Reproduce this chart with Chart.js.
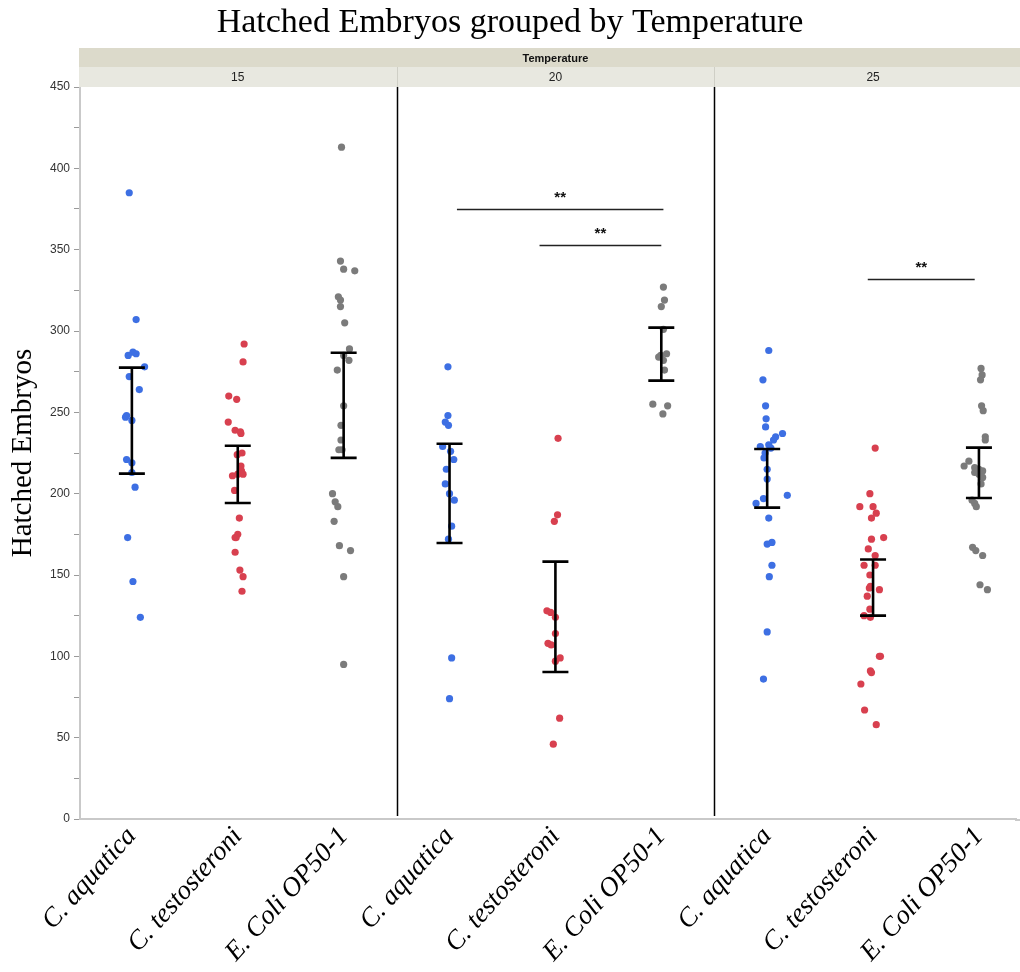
<!DOCTYPE html>
<html>
<head>
<meta charset="utf-8">
<title>Hatched Embryos grouped by Temperature</title>
<script src="https://cdn.jsdelivr.net/npm/chart.js@4.4.1/dist/chart.umd.min.js"></script>
<style>
    html, body { margin: 0; padding: 0; background: #fff; }
    #wrap { width: 1020px; height: 972px; }
</style>
</head>
<body>
<div id="wrap"><canvas id="embryoChart"></canvas></div>
<script>
// categories
const temps = ['15', '20', '25'];
const strains = ['C. aquatica', 'C. testosteroni', 'E. Coli OP50-1'];

// hatched embryos per plate (15 / 20 / 25 degrees)
const aq15 = [385, 307, 287, 286, 285, 278, 272, 264, 248, 247, 245, 221, 219, 213, 204, 173, 146, 124];
const te15 = [292, 281, 260, 258, 244, 239, 238, 237, 225, 224, 217, 214, 212, 212, 211, 202, 185, 175, 173, 173, 164, 153, 149, 140];
const ec15 = [413, 343, 338, 337, 321, 319, 315, 305, 289, 285, 282, 276, 254, 242, 233, 227, 227, 200, 195, 192, 183, 168, 165, 149, 95];
const aq20 = [278, 248, 244, 242, 229, 226, 221, 215, 206, 200, 196, 180, 172, 99, 74];
const te20 = [234, 187, 183, 128, 127, 124, 114, 108, 107, 99, 97, 62, 46];
const ec20 = [327, 319, 315, 301, 286, 285, 284, 282, 276, 255, 254, 249];
const aq25 = [288, 270, 254, 246, 241, 237, 235, 233, 230, 229, 228, 225, 222, 215, 209, 199, 197, 194, 185, 170, 169, 156, 149, 115, 86];
const te25 = [228, 200, 192, 192, 188, 185, 173, 172, 166, 162, 156, 156, 150, 143, 142, 141, 137, 129, 125, 124, 100, 100, 91, 90, 83, 67, 58];
const ec25 = [277, 273, 270, 254, 251, 235, 233, 220, 217, 216, 215, 214, 213, 212, 210, 206, 196, 194, 192, 167, 165, 162, 144, 141];

// horizontal jitter of each point (in category widths)
const aq15Jit = [-0.025, 0.04, 0.01, 0.04, -0.035, 0.12, -0.025, 0.07, -0.05, -0.06, 0, -0.05, 0, 0, 0.03, -0.04, 0.01, 0.08];
const te15Jit = [0.06, 0.05, -0.085, -0.01, -0.09, -0.025, 0.025, 0.03, 0.04, -0.005, 0.03, 0.035, 0.05, 0, -0.05, -0.03, 0.015, 0, -0.015, -0.025, -0.025, 0.02, 0.05, 0.04];
const ec15Jit = [-0.02, -0.03, 0, 0.105, -0.05, -0.03, -0.03, 0.01, 0.055, 0, 0.05, -0.06, 0, -0.025, -0.025, -0.045, -0.015, -0.105, -0.08, -0.055, -0.09, -0.04, 0.065, 0, 0];
const aq20Jit = [-0.015, -0.015, -0.04, -0.01, -0.065, 0.01, 0.04, -0.03, -0.04, 0, 0.045, 0.02, -0.01, 0.02, 0];
const te20Jit = [0.025, 0.02, -0.01, -0.08, -0.045, 0, 0, -0.07, -0.04, 0.045, 0, 0.04, -0.02];
const ec20Jit = [0.02, 0.03, 0, 0.02, 0.05, -0.005, -0.025, 0.02, 0.03, -0.08, 0.06, 0.015];
const aq25Jit = [0.015, -0.04, -0.015, -0.01, -0.015, 0.145, 0.08, 0.06, 0.015, -0.065, 0.035, -0.02, -0.03, 0, 0, 0.19, -0.035, -0.105, 0.015, 0.045, 0, 0.045, 0.02, 0, -0.035];
const te25Jit = [0.02, -0.03, -0.125, 0, 0.03, -0.015, 0.1, -0.015, -0.045, 0.02, -0.085, 0.02, -0.03, -0.025, -0.035, 0.06, -0.055, -0.03, -0.085, -0.025, 0.06, 0.07, -0.025, -0.015, -0.115, -0.08, 0.03];
const ec25Jit = [0.02, 0.03, 0.015, 0.025, 0.04, 0.06, 0.06, -0.095, -0.14, -0.04, 0, 0.035, -0.04, 0, 0.035, 0.02, -0.065, -0.04, -0.025, -0.06, -0.03, 0.035, 0.01, 0.08];

// error bar ends, one per column (left to right)
const errLow = [212.3, 194.3, 222, 169.7, 90.4, 269.5, 191.4, 125, 197.3];
const errHigh = [277.5, 229.5, 286.6, 230.7, 158.2, 302.1, 227.5, 159.5, 228.3];

// significance brackets: from column, to column, height
const brackets = [
    { from: 3.57, to: 5.52, y: 375, label: '**' },
    { from: 4.35, to: 5.5, y: 353, label: '**' },
    { from: 7.45, to: 8.46, y: 332, label: '**' }
];

const yTicks = [0, 50, 100, 150, 200, 250, 300, 350, 400, 450];

const groups = [
    [aq15, aq15Jit], [te15, te15Jit], [ec15, ec15Jit],
    [aq20, aq20Jit], [te20, te20Jit], [ec20, ec20Jit],
    [aq25, aq25Jit], [te25, te25Jit], [ec25, ec25Jit]
];
const strainColors = ['#3d6fe3', '#d8404f', '#7b7b7b'];

document.addEventListener('DOMContentLoaded', () => {
    const ctx = document.getElementById('embryoChart');
    if (!ctx) return;

    const sans = '"Liberation Sans", Arial, sans-serif';
    const serif = '"Liberation Serif", "Times New Roman", serif';

    // one scatter dataset per strain, spread over the three temperature panels
    const datasets = strains.map((name, s) => {
        const pts = [];
        groups.forEach((g, col) => {
            if (col % 3 !== s) return;
            g[0].forEach((v, k) => pts.push({ x: col + 0.5 + g[1][k], y: v }));
        });
        return {
            label: name,
            data: pts,
            backgroundColor: strainColors[s],
            borderColor: strainColors[s],
            borderWidth: 0,
            pointRadius: 3.6
        };
    });

    // header strips, panel dividers, error bars and brackets
    const decorations = {
        id: 'decorations',
        beforeDatasetsDraw(chart) {
            const { ctx: c, chartArea: a, scales: { x } } = chart;
            c.save();
            c.strokeStyle = '#000';
            c.lineWidth = 1.5;
            [3, 6].forEach(v => {
                const px = Math.round(x.getPixelForValue(v)) + 0.5;
                c.beginPath();
                c.moveTo(px, a.top);
                c.lineTo(px, a.bottom - 3);
                c.stroke();
            });
            // carry the bottom axis line to the edge of the picture
            c.strokeStyle = '#c9c9c9';
            c.lineWidth = 2;
            c.beginPath();
            c.moveTo(a.right - 1, a.bottom + 1);
            c.lineTo(chart.width, a.bottom + 1);
            c.stroke();
            c.restore();
        },
        afterDatasetsDraw(chart) {
            const { ctx: c, chartArea: a, scales: { x, y } } = chart;
            c.save();

            // error bars
            c.strokeStyle = '#000';
            c.lineWidth = 2.6;
            errLow.forEach((lo, i) => {
                const px = x.getPixelForValue(i + 0.5);
                const y1 = y.getPixelForValue(lo);
                const y2 = y.getPixelForValue(errHigh[i]);
                c.beginPath();
                c.moveTo(px, y1); c.lineTo(px, y2);
                c.moveTo(px - 13, y1); c.lineTo(px + 13, y1);
                c.moveTo(px - 13, y2); c.lineTo(px + 13, y2);
                c.stroke();
            });

            // significance brackets
            c.lineWidth = 1.4;
            c.strokeStyle = '#222';
            c.fillStyle = '#111';
            c.font = 'bold 15px ' + sans;
            c.textAlign = 'center';
            c.textBaseline = 'middle';
            brackets.forEach(b => {
                const x1 = x.getPixelForValue(b.from);
                const x2 = x.getPixelForValue(b.to);
                const py = Math.round(y.getPixelForValue(b.y)) + 0.5;
                c.beginPath();
                c.moveTo(x1, py); c.lineTo(x2, py);
                c.stroke();
                c.fillText(b.label, (x1 + x2) / 2, py - 12);
            });

            // header strips
            const w = chart.width;
            const top1 = a.top - 39, top2 = a.top - 20;
            c.fillStyle = '#dcdacb';
            c.fillRect(a.left - 1, top1, w - a.left + 1, top2 - top1);
            c.fillStyle = '#e8e8e0';
            c.fillRect(a.left - 1, top2, w - a.left + 1, a.top - top2);
            c.strokeStyle = '#cfcfc6';
            c.lineWidth = 1;
            [3, 6].forEach(v => {
                const px = Math.round(x.getPixelForValue(v)) + 0.5;
                c.beginPath();
                c.moveTo(px, top2); c.lineTo(px, a.top);
                c.stroke();
            });
            c.fillStyle = '#111';
            c.font = 'bold 11px ' + sans;
            c.fillText('Temperature', x.getPixelForValue(4.5), (top1 + top2) / 2 + 1);
            c.font = '12px ' + sans;
            c.fillStyle = '#222';
            temps.forEach((t, i) => {
                c.fillText(t, x.getPixelForValue(i * 3 + 1.5), (top2 + a.top) / 2 + 1);
            });
            c.restore();
        }
    };

    new Chart(ctx, {
        type: 'scatter',
        data: { datasets: datasets },
        plugins: [decorations],
        options: {
            responsive: true,
            maintainAspectRatio: false,
            animation: false,
            layout: { padding: { top: 0, right: 0, bottom: 0, left: 0 } },
            plugins: {
                legend: { display: false },
                tooltip: { enabled: false },
                title: {
                    display: true,
                    text: 'Hatched Embryos grouped by Temperature',
                    color: '#000',
                    font: { family: serif, size: 34, weight: 'normal' },
                    padding: { top: 3, bottom: 43.2 }
                }
            },
            scales: {
                x: {
                    type: 'linear',
                    min: 0.01,
                    max: 8.85,
                    afterFit: (scale) => {
                        scale.height = 153;
                        scale.paddingLeft = 0;
                        scale.paddingRight = 0;
                    },
                    afterBuildTicks: (scale) => {
                        scale.ticks = [];
                        for (let i = 0; i < 9; i++) scale.ticks.push({ value: i + 0.5 });
                    },
                    ticks: {
                        autoSkip: false,
                        minRotation: 48,
                        maxRotation: 48,
                        padding: 2,
                        color: '#000',
                        font: { family: serif, size: 27, style: 'italic' },
                        callback: (value, index) => strains[index % 3]
                    },
                    grid: { display: false, drawTicks: false },
                    border: { display: true, color: '#c9c9c9', width: 2 }
                },
                y: {
                    min: 0,
                    max: 450,
                    afterFit: (scale) => { scale.width = 80; },
                    ticks: {
                        stepSize: 25,
                        padding: 4,
                        color: '#333',
                        font: { family: sans, size: 12 },
                        callback: (value) => yTicks.includes(value) ? value : ''
                    },
                    title: {
                        display: true,
                        text: 'Hatched Embryos',
                        color: '#000',
                        font: { family: serif, size: 29 },
                        padding: { top: 6, bottom: 0 }
                    },
                    grid: {
                        drawOnChartArea: false,
                        drawTicks: true,
                        tickLength: 6,
                        tickColor: '#9a9a9a'
                    },
                    border: { display: true, color: '#c9c9c9', width: 2 }
                }
            }
        }
    });
});
</script>
</body>
</html>
